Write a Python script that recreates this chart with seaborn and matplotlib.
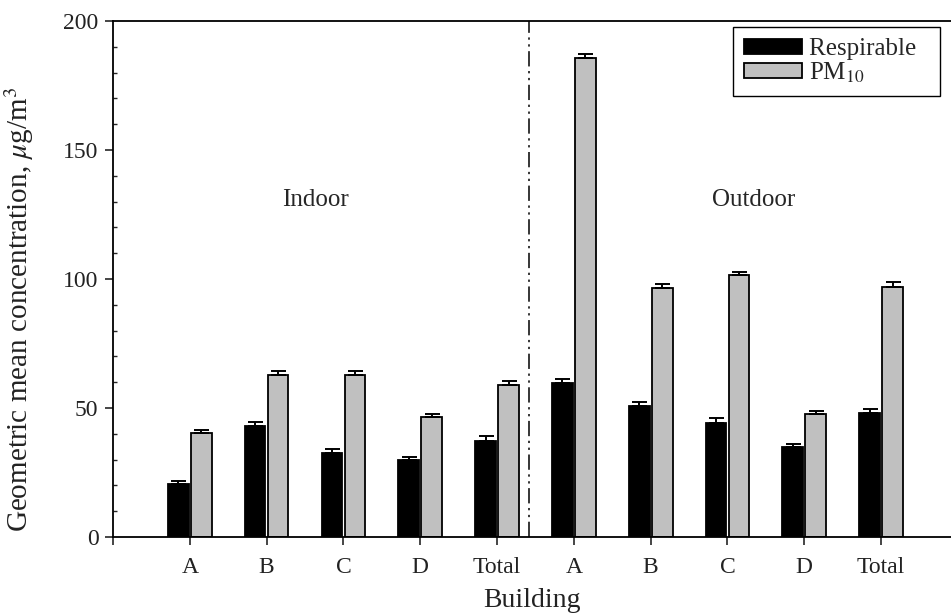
import numpy as np
import pandas as pd
import matplotlib
matplotlib.use('Agg')
import matplotlib.pyplot as plt
import seaborn as sns

# values
gruppe = ['Indoor'] * 5 + ['Outdoor'] * 5
epulet = ['A', 'B', 'C', 'D', 'Total', 'A', 'B', 'C', 'D', 'Total']
respirable = [20.5, 43.0, 32.4, 29.8, 37.3, 59.6, 50.9, 44.3, 35.0, 47.9]
respirable_err = [1.4, 1.7, 1.8, 1.2, 1.8, 1.8, 1.6, 1.7, 1.1, 1.7]
pm10 = [40.4, 62.8, 62.8, 46.6, 58.9, 185.8, 96.4, 101.6, 47.7, 97.0]
pm10_err = [1.2, 1.5, 1.5, 1.1, 1.7, 1.4, 1.8, 1.1, 1.2, 1.7]
sorozatok = ['Respirable', 'PM$_{10}$']

sns.set_style('ticks')
plt.rcParams['font.family'] = ['Liberation Serif', 'DejaVu Serif']
plt.rcParams['mathtext.fontset'] = 'stix'

kulcs = [g + ' ' + e for g, e in zip(gruppe, epulet)]
df = pd.DataFrame({
    'kulcs': kulcs * 2,
    'ertek': respirable + pm10,
    'sorozat': [sorozatok[0]] * 10 + [sorozatok[1]] * 10,
})

fig = plt.figure(figsize=(9.51, 6.16), dpi=100)
ax = fig.add_axes([0.1188, 0.1282, 0.8812, 0.8377])

sns.barplot(data=df, x='kulcs', y='ertek', hue='sorozat', order=kulcs,
            hue_order=sorozatok, palette=['#000000', '#c0c0c0'],
            width=0.6, gap=0.1, edgecolor='black', linewidth=1.3,
            saturation=1, ax=ax)

for kont, hibak in zip(ax.containers, [respirable_err, pm10_err]):
    xs = [p.get_x() + p.get_width() / 2 for p in kont]
    ys = [p.get_height() for p in kont]
    ax.errorbar(xs, ys, yerr=[np.zeros(len(hibak)), hibak], fmt='none',
                ecolor='black', elinewidth=1.4, capsize=5.4, capthick=1.4)

ax.axvline(4.42, color='black', lw=1.1, linestyle=(0, (10, 3, 1.5, 3, 1.5, 3)))

ax.text(1.64, 130.6, 'Indoor', fontsize=18, ha='center', va='center')
ax.text(7.34, 130.6, 'Outdoor', fontsize=18, ha='center', va='center')

ax.set_xlim(-1, 9.91)
ax.set_ylim(0, 200)
ax.set_xticks(range(-1, 10))
ax.set_xticklabels([''] + epulet, fontsize=17)
ax.set_yticks([0, 50, 100, 150, 200])
ax.set_yticks(np.arange(0, 201, 10), minor=True)
ax.tick_params(axis='y', which='major', direction='out', length=6, width=1.2,
               labelsize=17, pad=4.5, labelcolor='#222222')
ax.tick_params(axis='y', which='minor', direction='in', length=3, width=1.0)
ax.tick_params(axis='x', which='major', direction='out', length=6, width=1.2,
               labelsize=17, pad=8.5, labelcolor='#222222')

ax.set_xlabel('Building', fontsize=20, color='#222222', labelpad=7)
ax.set_ylabel('Geometric mean concentration, $\\mathit{\\mu}$g/m$^{3}$',
              fontsize=21, color='#222222')
ax.yaxis.set_label_coords(-0.092, 0.442)

for s in ['left', 'bottom', 'top']:
    ax.spines[s].set_visible(True)
    ax.spines[s].set_linewidth(1.3)
    ax.spines[s].set_color('black')
ax.spines['right'].set_visible(False)

kezelok, _ = ax.get_legend_handles_labels()
leg = ax.legend(kezelok, ['Respirable  ', 'PM$_{10}$'],
                loc='upper right', bbox_to_anchor=(0.987, 0.988),
                borderaxespad=0, fontsize=18, frameon=True, fancybox=False,
                handlelength=2.3, handleheight=0.5, handletextpad=0.3,
                labelspacing=0.0, borderpad=0.45, edgecolor='black')
leg.get_frame().set_linewidth(1.0)
leg.get_frame().set_alpha(1)

fig.savefig('out.png', dpi=100)
